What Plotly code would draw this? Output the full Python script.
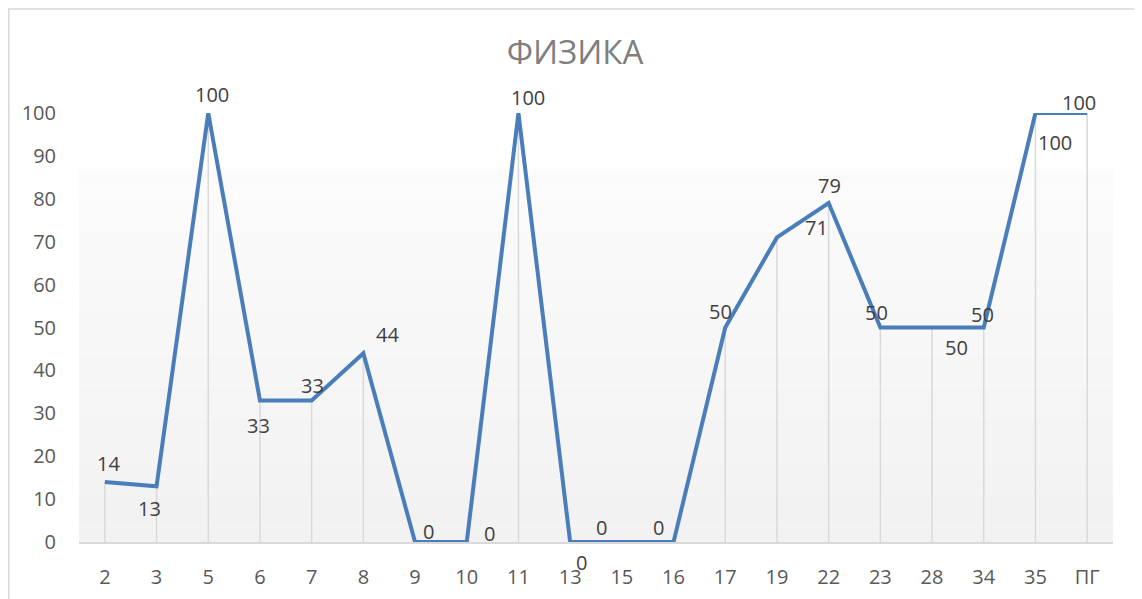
import plotly.graph_objs as go

categories = ["2", "3", "5", "6", "7", "8", "9", "10", "11", "13",
              "15", "16", "17", "19", "22", "23", "28", "34", "35", "ПГ"]
values = [14, 13, 100, 33, 33, 44, 0, 0, 100, 0,
          0, 0, 50, 71, 79, 50, 50, 50, 100, 100]
y_ticks = [0, 10, 20, 30, 40, 50, 60, 70, 80, 90, 100]

# pixel offsets of each data label from its point (dx right, dy down), as in the original
label_dx = [4, -7, 4, -1, 1, 24, 13, 23, 10, 11, -20, -15, -5, 40, 1, -4, 24, -1, 20, -8]
label_dy = [-18, 22, -19, 25, -15, -19, -11, -9, -16, 20, -15, -15, -16, -10, -18, -15, 20, -13, 29, -11]

FONT = "Open Sans, Calibri, sans-serif"
LINE_COLOR = "#4a7ebb"
GRID_COLOR = "#d9d9d9"

# the page body adds an 8px offset, so the figure is sized to fit the window
W, H = 1134, 591
M_L, M_R, M_T, M_B = 71, 29, 105, 57
PW, PH = W - M_L - M_R, H - M_T - M_B

fig = go.Figure()

fig.add_trace(
    go.Scatter(
        x=categories,
        y=values,
        mode="lines",
        line=dict(color=LINE_COLOR, width=4),
        cliponaxis=False,
        hoverinfo="skip",
    )
)

shapes = []

# soft vertical gradient in the plot area (white at top, light gray at bottom)
n_steps = 24
top = 0.87
for i in range(n_steps):
    t = i / n_steps
    c = int(0xf2 + (0xfc - 0xf2) * t)
    shapes.append(dict(
        type="rect", xref="x domain", yref="y domain",
        x0=0, x1=1, y0=top * t, y1=top * (i + 1) / n_steps,
        fillcolor=f"rgb({c},{c},{c})", line=dict(width=0), layer="below",
    ))

# drop lines from each point down to the axis
for i, val in enumerate(values):
    shapes.append(dict(
        type="line", xref="x", yref="y",
        x0=i, x1=i, y0=0, y1=val,
        line=dict(color=GRID_COLOR, width=1.5), layer="below",
    ))

# outer chart border
shapes.append(dict(
    type="rect", xref="paper", yref="paper",
    x0=(0.8 - M_L) / PW, x1=(1130 - M_L) / PW,
    y0=-(M_B + 20) / PH, y1=(PH + M_T - 1) / PH,
    line=dict(color=GRID_COLOR, width=1.5), fillcolor="rgba(0,0,0,0)", layer="below",
))

annotations = []
for i, val in enumerate(values):
    annotations.append(dict(
        x=i, y=val, xref="x", yref="y",
        text=str(val), showarrow=False,
        xanchor="center", yanchor="middle",
        xshift=label_dx[i], yshift=-label_dy[i],
        font=dict(family=FONT, size=20, color="#404040"),
    ))

fig.update_layout(
    width=W,
    height=H,
    paper_bgcolor="white",
    plot_bgcolor="white",
    showlegend=False,
    margin=dict(l=M_L, r=M_R, t=M_T, b=M_B),
    font=dict(family=FONT, size=20, color="#595959"),
    title=dict(
        text="ФИЗИКА",
        x=0.5, xanchor="center",
        y=1 - 44 / H, yref="container", yanchor="middle",
        font=dict(family=FONT, size=33, color="#7f7f7f"),
    ),
    shapes=shapes,
    annotations=annotations,
)

fig.update_xaxes(
    type="category",
    range=[-0.5, len(categories) - 0.5],
    showgrid=False,
    showline=True,
    linecolor=GRID_COLOR,
    linewidth=2,
    ticks="",
    ticklabelstandoff=16,
    tickfont=dict(family=FONT, size=20, color="#595959"),
    zeroline=False,
    automargin=False,
)

fig.update_yaxes(
    range=[0, 100],
    tickvals=y_ticks,
    showgrid=False,
    zeroline=False,
    showline=False,
    ticks="",
    ticklabelstandoff=22,
    tickfont=dict(family=FONT, size=20, color="#595959"),
    automargin=False,
)

fig.write_html("out.html")
